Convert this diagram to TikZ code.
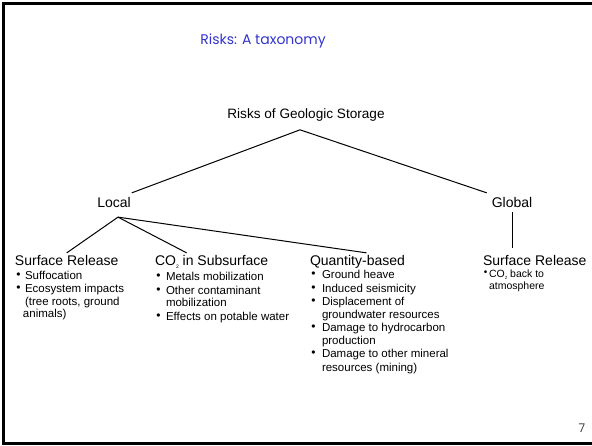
\documentclass[tikz,border=0pt]{standalone}
\usepackage{fontspec}
\setmainfont{Liberation Sans}
\newfontfamily\titlefont{Poppins}
\definecolor{titleblue}{RGB}{51,51,204}
\newcommand{\subtwo}[1][5]{\raisebox{-2.2pt}{\fontsize{#1}{#1}\selectfont 2}}
\newcommand{\bline}[5]{\node[bul] (#1-b) at (#2,#4-1.5) {\textbullet}; \node[itx] (#1) at (#3,#4) {#5};}
\newcommand{\contline}[4]{\node[itx] (#1) at (#2,#3) {#4};}
\begin{document}
\begin{tikzpicture}[x=1pt,y=-1pt,
  every node/.style={inner sep=0pt, outer sep=0pt},
  hd/.style={font=\fontsize{14}{16}\selectfont, anchor=base west},
  lbl/.style={font=\fontsize{14}{16}\selectfont, anchor=base},
  itx/.style={font=\fontsize{11.5}{13}\selectfont, anchor=base west},
  sitx/.style={font=\fontsize{10.5}{12}\selectfont, anchor=base west},
  bul/.style={font=\fontsize{12}{12}\selectfont, anchor=base},
  conn/.style={draw, line width=1pt}
]
\useasboundingbox (0,0) rectangle (592,446);
\clip (0,0) rectangle (592,446);
\draw[line width=3pt] (600,3.5) -- (3.5,3.5) -- (3.5,443.5) -- (600,443.5);

\node[font=\titlefont\fontsize{14}{16}\selectfont, text=titleblue, anchor=base] (title) at (263,44.5) {Risks: A taxonomy};

\node[font=\fontsize{13.6}{16}\selectfont, anchor=base] (root) at (306,119) {Risks of Geologic Storage};
\node[lbl] (local) at (114,208) {Local};
\node[lbl] (global) at (512,208) {Global};

\node[hd] (sr1) at (15,266) {Surface Release};
\node[hd] (co2) at (155,266) {CO\subtwo{} in Subsurface};
\node[hd] (qb) at (310,266) {Quantity-based};
\node[hd] (sr2) at (483,266) {Surface Release};

% column 1
\bline{s1a}{18.5}{25}{280}{Suffocation}
\bline{s1b}{18.5}{25}{293}{Ecosystem impacts}
\contline{s1c}{25}{306}{(tree roots, ground}
\contline{s1d}{23}{318}{animals)}
% column 2
\bline{s2a}{158.5}{166}{281}{Metals mobilization}
\bline{s2b}{158.5}{166}{295}{Other contaminant}
\contline{s2c}{166}{307}{mobilization}
\bline{s2d}{158.5}{166}{321}{Effects on potable water}
% column 3
\bline{s3a}{313.5}{322}{279}{Ground heave}
\bline{s3b}{313.5}{322}{293}{Induced seismicity}
\bline{s3c}{313.5}{322}{306}{Displacement of}
\contline{s3d}{322}{319}{groundwater resources}
\bline{s3e}{313.5}{322}{332}{Damage to hydrocarbon}
\contline{s3f}{322}{345}{production}
\bline{s3g}{313.5}{322}{358}{Damage to other mineral}
\contline{s3h}{322}{372}{resources (mining)}
% global column
\node[bul, font=\fontsize{10}{10}\selectfont] (s4a-b) at (485.5,276) {\textbullet};
\node[sitx] (s4a) at (489,277.5) {CO\subtwo[4.5]{} back to};
\node[sitx] (s4b) at (489,290) {atmosphere};

\node[font=\titlefont\fontsize{12}{14}\selectfont, text=black!75, anchor=base] (pnum) at (582,432) {7};

% connectors
\draw[conn] ([shift={(-6,8)}]root.south) -- ([shift={(1,-5)}]local.north east);
\draw[conn] ([shift={(-6,8)}]root.south) -- ([shift={(-5,-5)}]global.north west);
\draw[conn] ([shift={(0,4)}]global.south) -- ([shift={(0,-8)}]global.south |- sr2.north);
\draw[conn] ([shift={(4,9)}]local.south) -- ([shift={(0,-3)}]sr1.north);
\draw[conn] ([shift={(4,9)}]local.south) -- ([shift={(-25,-3)}]co2.north);
\draw[conn] ([shift={(4,9)}]local.south) -- ([shift={(9,-3)}]qb.north);
\end{tikzpicture}
\end{document}
